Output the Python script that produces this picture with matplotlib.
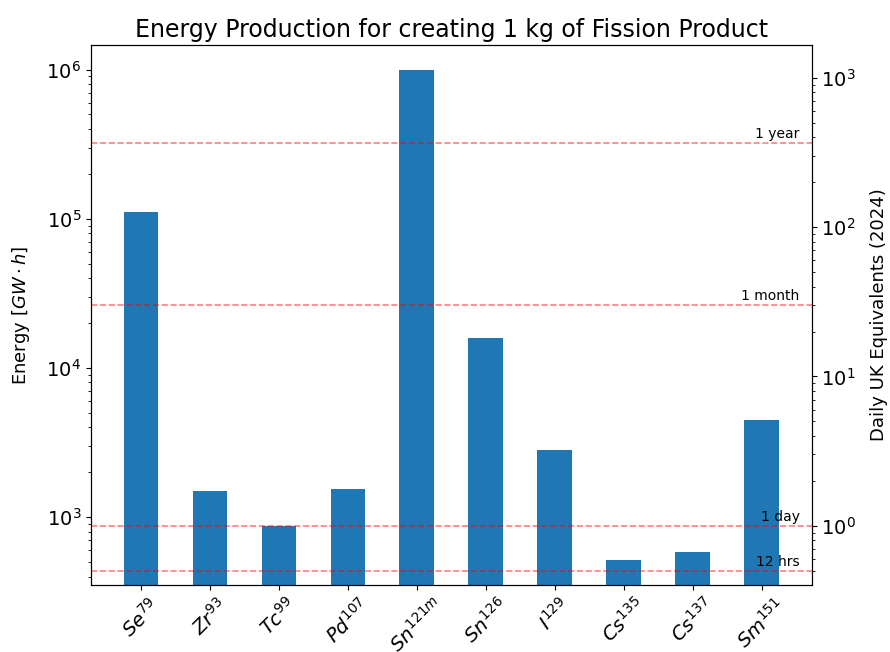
import matplotlib.pyplot as plt

# Fission products and energy produced per kg (GWh)
isotopes = ['$Se^{79}$', '$Zr^{93}$', '$Tc^{99}$', '$Pd^{107}$', '$Sn^{121m}$',
            '$Sn^{126}$', '$I^{129}$', '$Cs^{135}$', '$Cs^{137}$', '$Sm^{151}$']
energy_gwh = [1.11e5, 1490, 870, 1540, 1.0e6, 15900, 2820, 514, 582, 4480]

# UK daily electricity use (GWh), 2024
UK_DAILY = 877
ref_labels = ['12 hrs', '1 day', '1 month', '1 year']
ref_days = [0.5, 1, 30, 365]

fig, ax = plt.subplots(figsize=(8.9, 6.52), dpi=100)
x = list(range(len(isotopes)))
ax.bar(x, energy_gwh, width=0.5, color='#1f77b4')
ax.set_yscale('log')
ylo, yhi = 352, 1.46e6
ax.set_ylim(ylo, yhi)
ax.set_xticks(x)
ax.set_xticklabels(isotopes, rotation=45, fontsize=14)
ax.tick_params(axis='y', labelsize=14)
ax.set_ylabel(r'Energy [$GW \cdot h$]', fontsize=13, labelpad=10)
ax.set_title('Energy Production for creating 1 kg of Fission Product', fontsize=17)

for lab, d in zip(ref_labels, ref_days):
    ax.axhline(d * UK_DAILY, color='red', linestyle='--', alpha=0.5, linewidth=1.2)
    ax.text(9.55, d * UK_DAILY * 1.03, lab, ha='right', va='bottom', fontsize=10)

ax2 = ax.twinx()
ax2.set_yscale('log')
ax2.set_ylim(ylo / UK_DAILY, yhi / UK_DAILY)
ax2.tick_params(axis='y', labelsize=14)
ax2.set_ylabel('Daily UK Equivalents (2024)', fontsize=13, labelpad=10)

plt.subplots_adjust(left=0.102, right=0.912, top=0.931, bottom=0.103)
plt.savefig('out.png')
